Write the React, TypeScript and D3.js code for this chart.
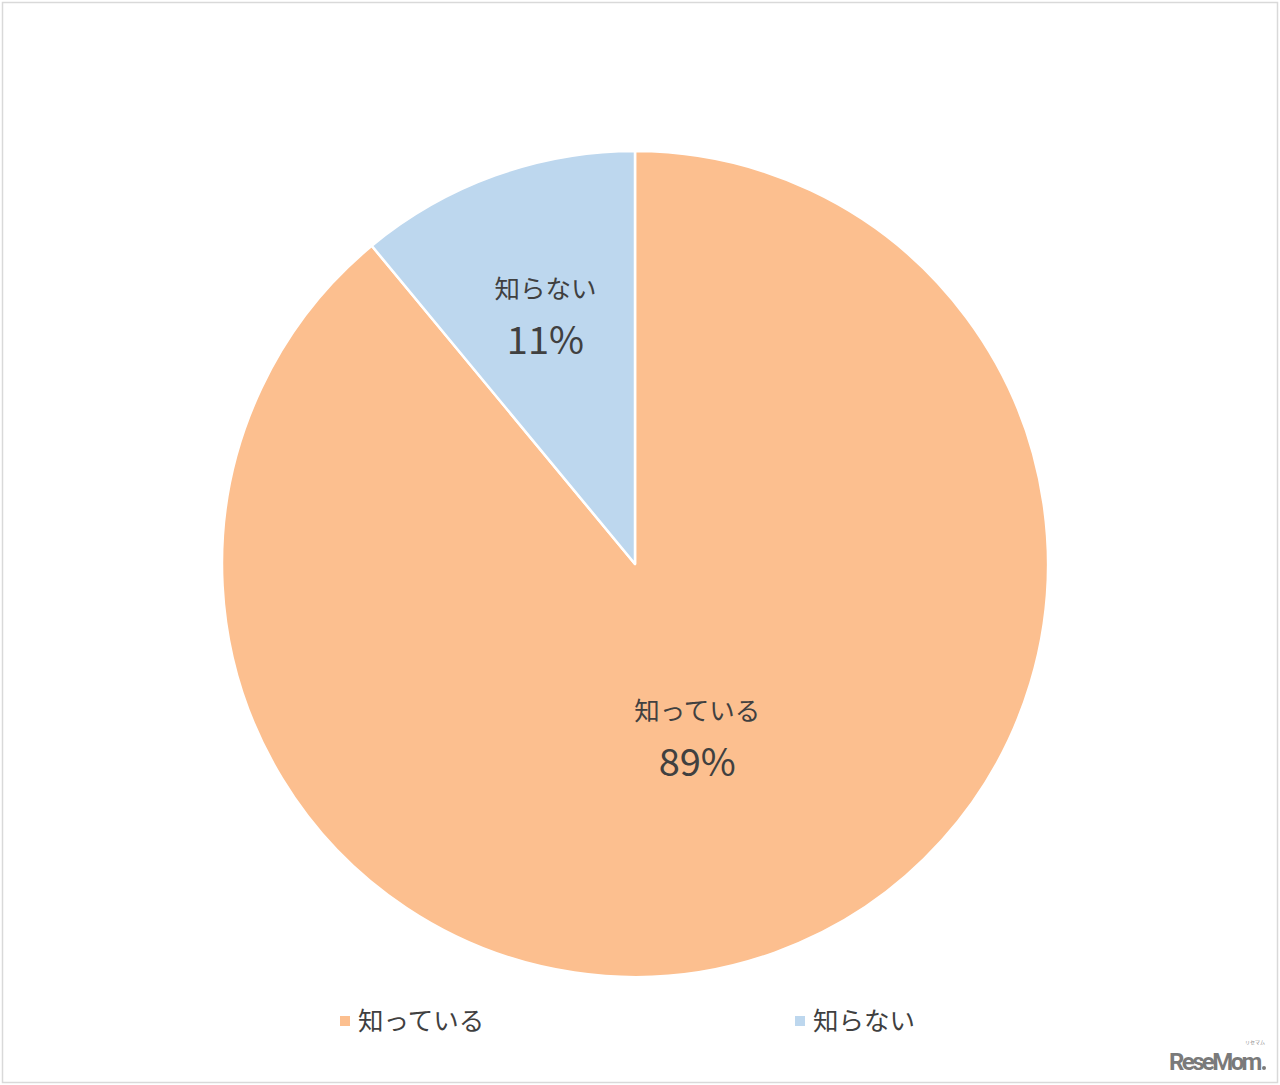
import React from 'react';
import * as d3 from 'd3';

const categories = ['知っている', '知らない'];
const values = [89, 11];
const colors = ['#FCBF8F', '#BDD7EE'];

const W = 1280;
const H = 1085;
const CX = 635;
const CY = 564;
const R = 413;
const JP = '"Noto Sans CJK JP", "Noto Sans", sans-serif';

// label distance from centre, as a share of the radius (Excel "best fit")
const labelRadius = [0.445, 0.64];

const App: React.FC = () => {
  // blue slice sits just left of 12 o'clock, orange runs clockwise from the top
  const total = d3.sum(values);
  const pie = d3
    .pie<number>()
    .sort(null)
    .startAngle(0)
    .endAngle(2 * Math.PI)
    .value((d) => d);
  const slices = pie(values);

  const arc = d3.arc<d3.PieArcDatum<number>>().innerRadius(0).outerRadius(R);

  const legendX = d3.scalePoint<string>().domain(categories).range([340, 795]);

  return (
    <div style={{ position: 'absolute', left: 0, top: 0 }}>
      <svg width={W} height={H} viewBox={`0 0 ${W} ${H}`} style={{ display: 'block' }}>
        <rect x={0} y={0} width={W} height={H} fill="#fff" />
        <rect x={2.5} y={2.5} width={W - 5} height={H - 5} fill="none" stroke="#d9d9d9" strokeWidth={1.5} />
        <g transform={`translate(${CX},${CY})`}>
          {slices.map((s, i) => (
            <path key={categories[i]} d={arc(s) || undefined} fill={colors[i]} stroke="#fff" strokeWidth={2.5} strokeLinejoin="round" />
          ))}
          {slices.map((s, i) => {
            const mid = (s.startAngle + s.endAngle) / 2;
            const r = R * labelRadius[i];
            const x = Math.sin(mid) * r;
            const y = -Math.cos(mid) * r;
            return (
              <g key={`lab-${i}`} transform={`translate(${x},${y})`} fill="#404040" textAnchor="middle">
                <text y={-17} fontFamily={JP} fontSize={25.5}>{categories[i]}</text>
                <text y={39} fontFamily={JP} fontSize={38}>{`${Math.round((values[i] / total) * 100)}%`}</text>
              </g>
            );
          })}
        </g>
        <g>
          {categories.map((c, i) => (
            <g key={`leg-${c}`} transform={`translate(${legendX(c)},1021)`}>
              <rect x={0} y={-5} width={10} height={10} fill={colors[i]} />
              <text x={18} y={0} dy="0.36em" fontFamily={JP} fontSize={25.5} fill="#404040">{c}</text>
            </g>
          ))}
        </g>
        <text x={1169} y={1070} fontFamily="Roboto, sans-serif" fontWeight="bold" fontSize={24} letterSpacing={-2.6} fill="#7a7a7a">ReseMom</text>
        <circle cx={1264} cy={1068} r={2} fill="#7a7a7a" />
        <text x={1245} y={1044} fontFamily={JP} fontSize={5} fill="#888">リセマム</text>
      </svg>
    </div>
  );
};

export default App;
